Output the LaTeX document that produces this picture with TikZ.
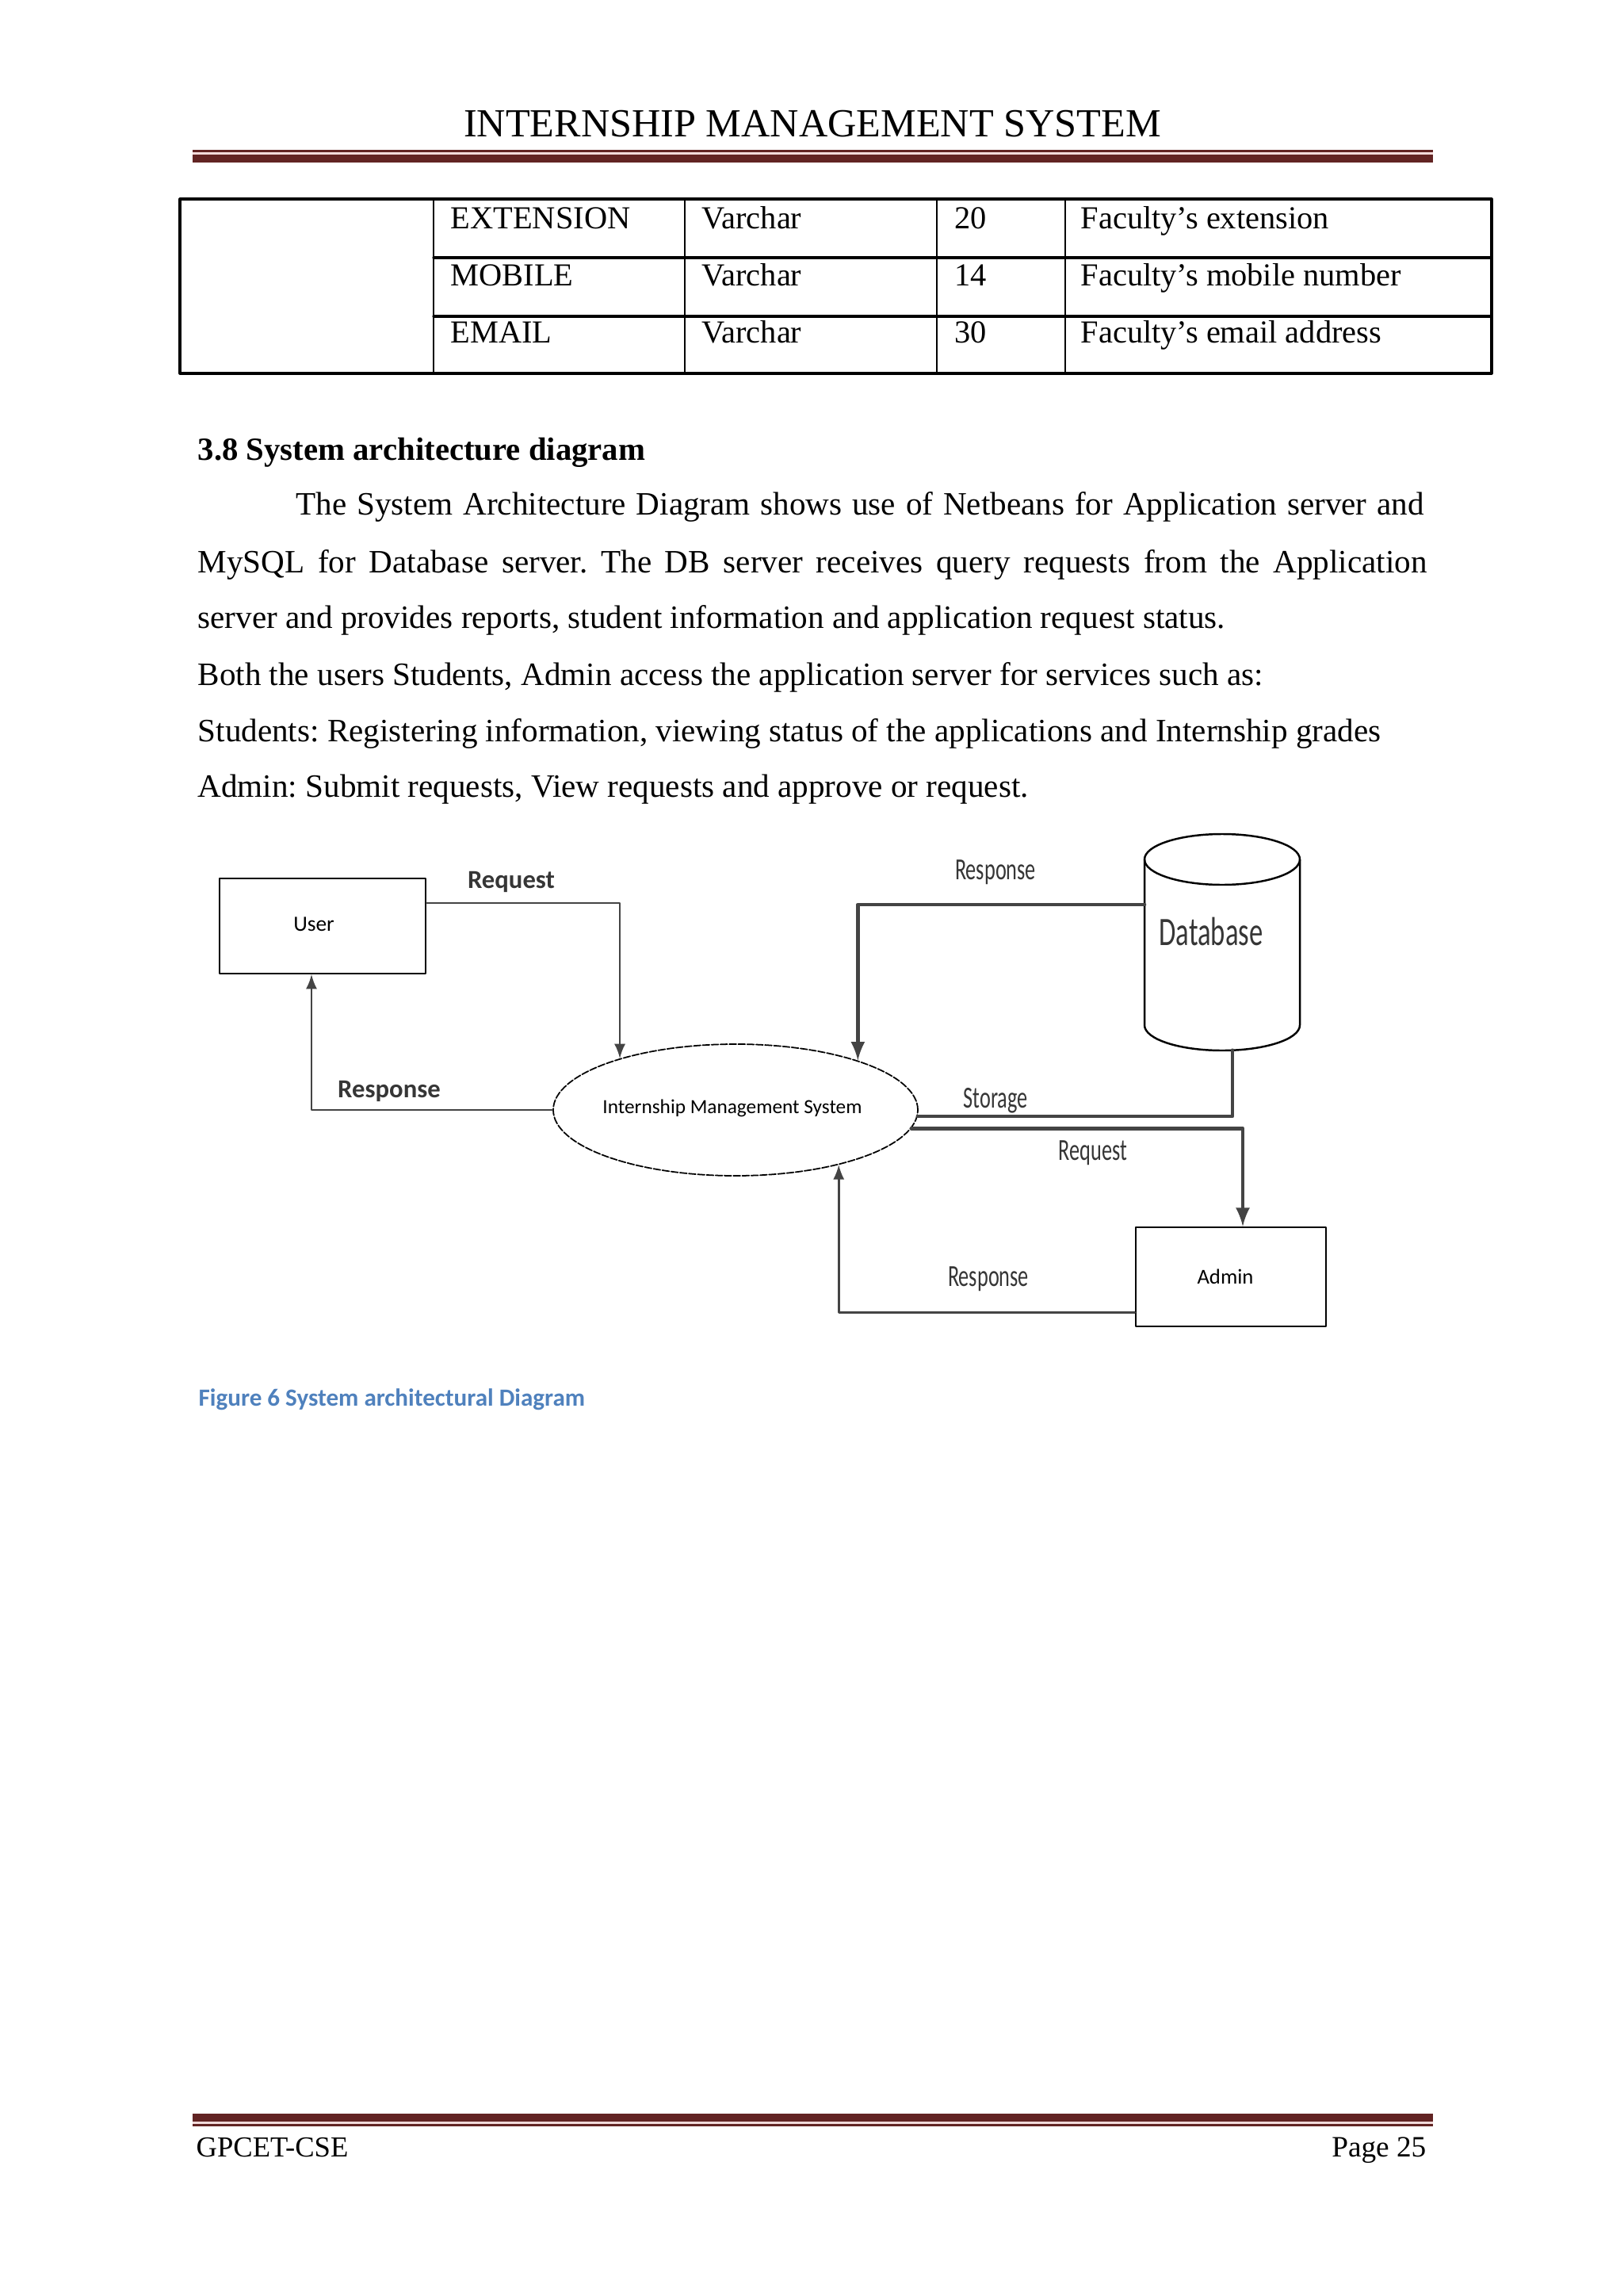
\documentclass[tikz,border=0pt]{standalone}
\usepackage{fontspec}
\setmainfont{Liberation Serif}
\newfontfamily\calibri{Carlito}
\newfontfamily\calibrinarrow{Carlito}[FakeStretch=0.68]
\usetikzlibrary{shapes.geometric}
\frenchspacing

\definecolor{rulered}{HTML}{622423}
\definecolor{rulepink}{HTML}{F2DBDB}
\definecolor{capblue}{HTML}{4F81BD}
\definecolor{linegray}{HTML}{444444}
\definecolor{labelgray}{HTML}{363636}

\begin{document}
\begin{tikzpicture}[>=latex, line join=round, line cap=round,
    txt/.style={anchor=base west, inner sep=0pt, font=\fontsize{11.7}{13}\selectfont},
    cell/.style={anchor=base west, inner sep=0pt, font=\fontsize{11.5}{13}\selectfont},
    box/.style={draw, line width=0.6pt, inner sep=0pt, font=\calibri\fontsize{7.8}{9}\selectfont},
    flow/.style={draw=linegray, line width=0.8pt},
    flowthick/.style={draw=linegray, line width=1.3pt},
    lblbold/.style={text=labelgray, inner sep=0pt, font=\calibri\bfseries\fontsize{9.3}{11}\selectfont},
    lbl/.style={text=labelgray, inner sep=0pt, font=\calibrinarrow\fontsize{11}{13}\selectfont}]
    % page
    \fill[white] (0,0) rectangle (20.48,-28.96);
    \useasboundingbox (0,0) rectangle (20.48,-28.96);

    % header
    \node[anchor=base, inner sep=0pt, font=\fontsize{14.3}{16}\selectfont] (title) at (10.25,-1.73) {INTERNSHIP MANAGEMENT SYSTEM};
    \fill[rulered] (2.43,-1.895) rectangle (18.08,-1.925);
    \fill[rulepink] (2.43,-1.925) rectangle (18.08,-1.955);
    \fill[rulered] (2.43,-1.955) rectangle (18.08,-2.055);

    % table
    \draw[line width=0.9pt] (2.27,-2.51) rectangle (18.82,-4.71);
    \foreach \x in {5.47,8.64,11.82,13.44}
        \draw[line width=0.7pt] (\x,-2.51) -- (\x,-4.71);
    \foreach \y in {-3.25,-3.99}
        \draw[line width=0.9pt] (5.47,\y) -- (18.82,\y);
    \foreach \fld/\typ/\len/\dsc [count=\i] in {EXTENSION/Varchar/20/{Faculty’s extension},
        MOBILE/Varchar/14/{Faculty’s mobile number}, EMAIL/Varchar/30/{Faculty’s email address}} {
        \pgfmathsetmacro{\yb}{-2.89-0.72*(\i-1)}
        \node[cell] (fld\i) at (5.68,\yb) {\fld};
        \node[cell] (typ\i) at (8.85,\yb) {\typ};
        \node[cell] (len\i) at (12.04,\yb) {\len};
        \node[cell] (dsc\i) at (13.63,\yb) {\dsc};
    }

    % section text
    \node[txt, font=\bfseries\fontsize{11.6}{13}\selectfont] (sec) at (2.49,-5.80) {3.8 System architecture diagram};
    \node[txt] (par1) at (3.73,-6.50) {\makebox[14.23cm][s]{The System Architecture Diagram shows use of Netbeans for Application server and}};
    \node[txt] (par2) at (2.49,-7.22) {\makebox[15.51cm][s]{MySQL for Database server. The DB server receives query requests from the Application}};
    \node[txt] (par3) at (2.49,-7.92) {server and provides reports, student information and application request status.};
    \node[txt] (par4) at (2.49,-8.64) {Both the users Students, Admin access the application server for services such as:};
    \node[txt] (par5) at (2.49,-9.35) {Students: Registering information, viewing status of the applications and Internship grades};
    \node[txt] (par6) at (2.49,-10.05) {Admin: Submit requests, View requests and approve or request.};

    % diagram
    \node[box, minimum width=2.6cm, minimum height=1.2cm] (user) at (4.07,-11.68) {\raisebox{0.5mm}{User}\hspace*{0.22cm}};
    \node[ellipse, draw, line width=0.5pt, dash pattern=on 2.5pt off 0.7pt, minimum width=4.6cm, minimum height=1.66cm,
        inner xsep=-2mm, inner ysep=0pt, font=\calibri\fontsize{7.2}{9}\selectfont] (ims) at (9.28,-14.00) {\raisebox{0.8mm}{Internship Management System}\hspace*{0.08cm}};
    \node[box, minimum width=2.4cm, minimum height=1.25cm, font=\calibri\fontsize{7.6}{9}\selectfont] (admin) at (15.53,-16.105) {Admin\hspace*{0.14cm}};

    % database cylinder
    \draw[line width=0.7pt] (14.44,-10.84) -- (14.44,-12.93)
        arc[start angle=180, end angle=360, x radius=0.98, y radius=0.32] -- (16.40,-10.84);
    \draw[line width=0.7pt] (15.42,-10.84) ellipse[x radius=0.98, y radius=0.32];
    \node[lbl, font=\calibrinarrow\fontsize{14.5}{16}\selectfont] (db) at (15.28,-11.75) {Database};
    \coordinate (dbL) at (14.44,-11.41);
    \coordinate (dbB) at (15.55,-13.247);

    % connectors
    \draw[flow, ->] ([yshift=2.9mm]user.east) -| (ims.156);
    \draw[flow, ->] (ims.west) -| ([xshift=-1.4mm]user.south);
    \draw[flowthick, ->] (dbL) -| (ims.22);
    \draw[flowthick] (dbB) |- (ims.-2);
    \draw[flowthick, ->] (ims.-6) -| ([xshift=1.5mm]admin.north);
    \draw[flow, ->] ([yshift=-4.5mm]admin.west) -| (ims.-28);

    % labels
    \node[lblbold] (req1) at (6.45,-11.12) {Request};
    \node[lblbold] (res1) at (4.91,-13.76) {Response};
    \node[lbl] (res2) at (12.56,-11.00) {Response};
    \node[lbl] (sto) at (12.56,-13.88) {Storage};
    \node[lbl] (req2) at (13.79,-14.54) {Request};
    \node[lbl] (res3) at (12.47,-16.13) {Response};

    % caption
    \node[anchor=base west, inner sep=0pt, text=capblue, font=\calibri\bfseries\fontsize{8.85}{10}\selectfont] (cap) at (2.50,-17.73) {Figure 6 System architectural Diagram};

    % footer
    \fill[rulered] (2.43,-26.66) rectangle (18.08,-26.76);
    \fill[rulepink] (2.43,-26.76) rectangle (18.08,-26.79);
    \fill[rulered] (2.43,-26.79) rectangle (18.08,-26.82);
    \node[anchor=base west, inner sep=0pt, font=\fontsize{10.4}{12}\selectfont] (foot) at (2.47,-27.20) {GPCET-CSE};
    \node[anchor=base east, inner sep=0pt, font=\fontsize{10.6}{12}\selectfont] (page) at (18.00,-27.20) {Page 25};
\end{tikzpicture}
\end{document}
